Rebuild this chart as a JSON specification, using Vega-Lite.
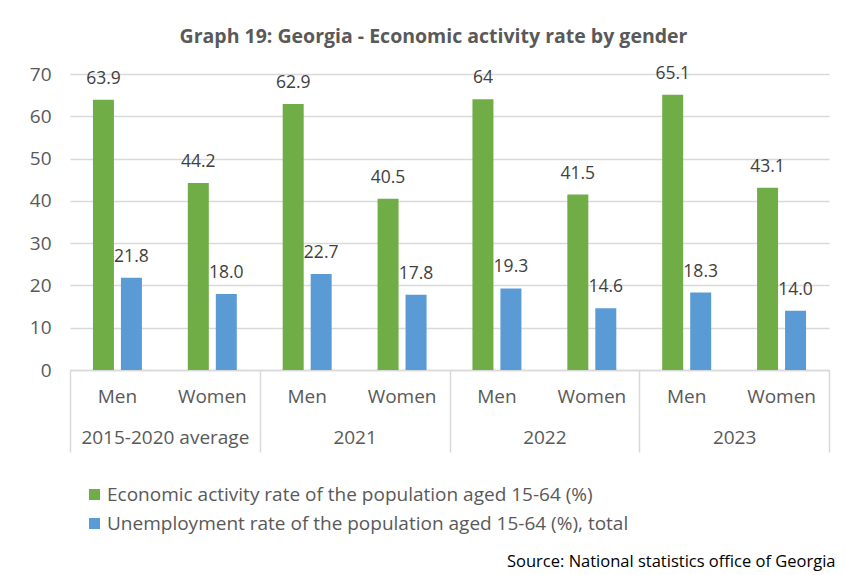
{
  "$schema": "https://vega.github.io/schema/vega-lite/v6.json",
  "width": 759,
  "height": 296,
  "autosize": {"type": "none"},
  "padding": {"left": 70, "top": 74, "right": 17, "bottom": 205},
  "background": "white",
  "config": {
    "font": "Open Sans",
    "view": {"stroke": null},
    "axis": {"labelFont": "Open Sans", "titleFont": "Open Sans"},
    "legend": {"labelFont": "Open Sans"}
  },
  "title": {
    "text": "Graph 19: Georgia - Economic activity rate by gender",
    "font": "Open Sans",
    "fontSize": 19.5,
    "fontWeight": "bold",
    "color": "#595959",
    "anchor": "middle",
    "dx": -16,
    "offset": 17
  },
  "data": {
    "values": [
      {"group": "2015-2020 average", "sex": "Men", "cat": "2015-2020 average|Men", "series": "Economic activity rate of the population aged 15-64 (%)", "value": 63.9, "label": "63.9"},
      {"group": "2015-2020 average", "sex": "Men", "cat": "2015-2020 average|Men", "series": "Unemployment rate of the population aged 15-64 (%), total", "value": 21.8, "label": "21.8"},
      {"group": "2015-2020 average", "sex": "Women", "cat": "2015-2020 average|Women", "series": "Economic activity rate of the population aged 15-64 (%)", "value": 44.2, "label": "44.2"},
      {"group": "2015-2020 average", "sex": "Women", "cat": "2015-2020 average|Women", "series": "Unemployment rate of the population aged 15-64 (%), total", "value": 18.0, "label": "18.0"},
      {"group": "2021", "sex": "Men", "cat": "2021|Men", "series": "Economic activity rate of the population aged 15-64 (%)", "value": 62.9, "label": "62.9"},
      {"group": "2021", "sex": "Men", "cat": "2021|Men", "series": "Unemployment rate of the population aged 15-64 (%), total", "value": 22.7, "label": "22.7"},
      {"group": "2021", "sex": "Women", "cat": "2021|Women", "series": "Economic activity rate of the population aged 15-64 (%)", "value": 40.5, "label": "40.5"},
      {"group": "2021", "sex": "Women", "cat": "2021|Women", "series": "Unemployment rate of the population aged 15-64 (%), total", "value": 17.8, "label": "17.8"},
      {"group": "2022", "sex": "Men", "cat": "2022|Men", "series": "Economic activity rate of the population aged 15-64 (%)", "value": 64, "label": "64"},
      {"group": "2022", "sex": "Men", "cat": "2022|Men", "series": "Unemployment rate of the population aged 15-64 (%), total", "value": 19.3, "label": "19.3"},
      {"group": "2022", "sex": "Women", "cat": "2022|Women", "series": "Economic activity rate of the population aged 15-64 (%)", "value": 41.5, "label": "41.5"},
      {"group": "2022", "sex": "Women", "cat": "2022|Women", "series": "Unemployment rate of the population aged 15-64 (%), total", "value": 14.6, "label": "14.6"},
      {"group": "2023", "sex": "Men", "cat": "2023|Men", "series": "Economic activity rate of the population aged 15-64 (%)", "value": 65.1, "label": "65.1"},
      {"group": "2023", "sex": "Men", "cat": "2023|Men", "series": "Unemployment rate of the population aged 15-64 (%), total", "value": 18.3, "label": "18.3"},
      {"group": "2023", "sex": "Women", "cat": "2023|Women", "series": "Economic activity rate of the population aged 15-64 (%)", "value": 43.1, "label": "43.1"},
      {"group": "2023", "sex": "Women", "cat": "2023|Women", "series": "Unemployment rate of the population aged 15-64 (%), total", "value": 14.0, "label": "14.0"}
    ]
  },
  "layer": [
    {
      "encoding": {
        "x": {
          "field": "cat",
          "type": "nominal",
          "sort": null,
          "scale": {"type": "band", "paddingInner": 0, "paddingOuter": 0},
          "axis": {
            "title": null,
            "labelExpr": "split(datum.label, '|')[1]",
            "labelAngle": 0,
            "labelFontSize": 19,
            "labelColor": "#595959",
            "labelPadding": 17,
            "ticks": false,
            "domainColor": "#d9d9d9",
            "domainWidth": 1.5,
            "grid": false
          }
        },
        "xOffset": {
          "field": "series",
          "type": "nominal",
          "sort": null,
          "scale": {"paddingInner": 0.25, "paddingOuter": 0.82}
        },
        "y": {
          "field": "value",
          "type": "quantitative",
          "scale": {"domain": [0, 70], "nice": false},
          "axis": {
            "title": null,
            "values": [0, 10, 20, 30, 40, 50, 60, 70],
            "domain": false,
            "ticks": false,
            "labelFontSize": 19,
            "labelColor": "#595959",
            "labelPadding": 19,
            "gridColor": "#d9d9d9",
            "gridWidth": 1.5
          }
        }
      },
      "layer": [
        {
          "mark": {"type": "bar"},
          "encoding": {
            "color": {
              "field": "series",
              "type": "nominal",
              "sort": null,
              "scale": {
                "domain": ["Economic activity rate of the population aged 15-64 (%)", "Unemployment rate of the population aged 15-64 (%), total"],
                "range": ["#70AD47", "#5B9BD5"]
              },
              "legend": {
                "title": null,
                "orient": "none",
                "legendX": 15,
                "legendY": 411,
                "direction": "vertical",
                "symbolType": "square",
                "symbolSize": 120,
                "symbolStrokeWidth": 0,
                "labelFontSize": 19,
                "labelColor": "#595959",
                "labelLimit": 700,
                "rowPadding": 9,
                "labelOffset": 3
              }
            }
          }
        },
        {
          "mark": {"type": "text", "baseline": "alphabetic", "dy": -16, "fontSize": 17.5, "color": "#404040"},
          "encoding": {
            "text": {"field": "label", "type": "nominal"}
          }
        }
      ]
    },
    {
      "mark": {"type": "rule", "opacity": 0},
      "encoding": {
        "x": {
          "field": "group",
          "type": "nominal",
          "sort": null,
          "scale": {"type": "band", "paddingInner": 0, "paddingOuter": 0},
          "axis": {
            "orient": "bottom",
            "offset": 0,
            "domain": false,
            "grid": false,
            "tickBand": "extent",
            "tickSize": 82,
            "tickColor": "#d9d9d9",
            "tickWidth": 1.5,
            "labelAngle": 0,
            "labelFontSize": 19,
            "labelColor": "#595959",
            "labelPadding": -24,
            "labelLimit": 300,
            "title": "Source: National statistics office of Georgia",
            "titleFontSize": 16.5,
            "titleFontWeight": "normal",
            "titleColor": "#000000",
            "titleAnchor": "end",
            "titleAlign": "right",
            "titleBaseline": "middle",
            "titleX": 765,
            "titleY": 191
          }
        }
      }
    }
  ],
  "resolve": {"scale": {"x": "independent"}, "axis": {"x": "independent"}}
}
